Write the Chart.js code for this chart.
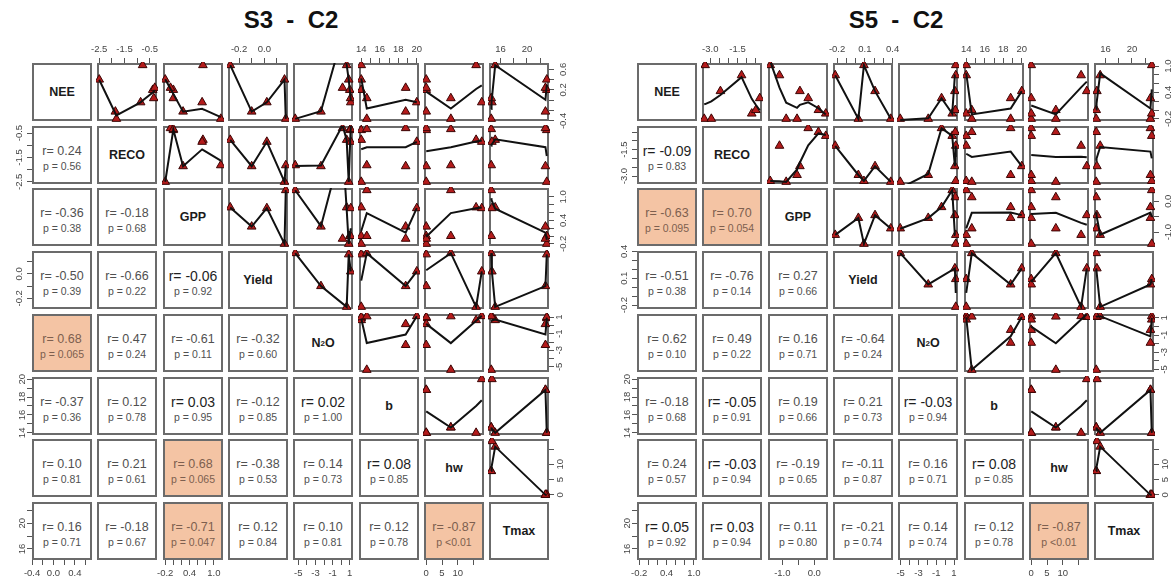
<!DOCTYPE html>
<html>
<head>
<meta charset="utf-8">
<script src="https://cdn.jsdelivr.net/npm/chart.js@4.4.1/dist/chart.umd.min.js"></script>
<style>
  body { margin: 0; width: 1172px; height: 585px; background: #fff; position: relative; overflow: hidden;
         font-family: Arial, "Liberation Sans", sans-serif; }
  .title { position: absolute; top: 8px; width: 300px; text-align: center; font-weight: bold; font-size: 24px;
           line-height: 24px; white-space: pre; color: #111; }
  .box { position: absolute; width: 60px; height: 58px; box-sizing: border-box; border: 2px solid #6b6b6b; background: #fff; }
  .diag { display: flex; align-items: center; justify-content: center; font-weight: bold; font-size: 12.5px; color: #1b1b1b; }
  .diag sub { font-size: 8px; }
  .rtxt { position: absolute; left: 0; right: 0; top: 15px; text-align: center; font-size: 12.5px; line-height: 16px; color: #505050; white-space: nowrap; }
  .ptxt { position: absolute; left: 0; right: 0; top: 32px; text-align: center; font-size: 10.5px; line-height: 12px; color: #505050; white-space: nowrap; }
  .rtxt.big { font-size: 14px; color: #1e1e1e; }
  .sig { background: #f4c4a4; }
  .sig .rtxt, .sig .ptxt { color: #7d5f4f; }
  canvas { position: absolute; }
</style>
</head>
<body>
<script>
// variable names, same order in both panels
const varNames = ['NEE', 'RECO', 'GPP', 'Yield', 'N<sub>2</sub>O', 'b', 'hw', 'Tmax'];

// S3 - C2 : 8 observations (null = missing)
const s3NEE   = [0.40, -0.22, -0.36, 0.68, -0.04, 0.20, 0.24, 0.04];
const s3RECO  = [-2.50, -1.86, -1.82, -0.78, -0.86, -0.38, -0.30, -0.34];
const s3GPP   = [-0.20, 0.24, 1.17, 0.73, 0.71, 0.00, -0.07, 0.00];
const s3Yield = [0.16, -0.10, 0.17, -0.27, 0.02, null, null, null];
const s3N2O   = [0.88, -2.36, -5.36, 0.64, 1.12, 1.00, 0.16, 1.10];
const s3B     = [14.0, 18.8, 14.6, 14.0, 20.0, 14.0, 18.8, 14.6];
const s3Hw    = [0, 0, 7.8, 15.8, 17.6, 0, 0, 7.8];
const s3Tmax  = [23.0, 22.8, 14.6, 15.2, 14.7, 23.0, 22.8, 14.6];

// S5 - C2
const s5NEE   = [1.02, -0.20, -0.20, 0.43, 0.79, 0.27, -0.08, 0.00];
const s5RECO  = [-3.28, -3.33, -2.94, -2.44, -1.28, -0.28, -0.72, -0.50];
const s5GPP   = [-1.38, -0.88, -0.54, -0.45, -1.09, -0.19, 0.36, 0.13];
const s5Yield = [0.09, 0.38, 0.03, 0.21, -0.22, null, null, null];
const s5N2O   = [1.20, -5.05, -1.90, 1.10, 1.20, -0.40, 0.80, 1.15];
const s5B     = [14.0, 14.6, 18.8, 20.0, 14.0, 18.8, 14.0, 14.6];
const s5Hw    = [0, 7.8, 0, 17.6, 15.8, 0, 0, 7.8];
const s5Tmax  = [23.0, 14.6, 22.8, 14.7, 15.2, 22.8, 23.0, 14.6];

// lower panel text, row by row (row 2 col 1, row 3 col 1..2, ...)
const s3R = ['0.24', '-0.36', '-0.18', '-0.50', '-0.66', '-0.06', '0.68', '0.47', '-0.61', '-0.32',
             '-0.37', '0.12', '0.03', '-0.12', '0.02', '0.10', '0.21', '0.68', '-0.38', '0.14', '0.08',
             '0.16', '-0.18', '-0.71', '0.12', '0.10', '0.12', '-0.87'];
const s3P = ['0.56', '0.38', '0.68', '0.39', '0.22', '0.92', '0.065', '0.24', '0.11', '0.60',
             '0.36', '0.78', '0.95', '0.85', '1.00', '0.81', '0.61', '0.065', '0.53', '0.73', '0.85',
             '0.71', '0.67', '0.047', '0.84', '0.81', '0.78', '<0.01'];
const s5R = ['-0.09', '-0.63', '0.70', '-0.51', '-0.76', '0.27', '0.62', '0.49', '0.16', '-0.64',
             '-0.18', '-0.05', '0.19', '0.21', '-0.03', '0.24', '-0.03', '-0.19', '-0.11', '0.16', '0.08',
             '0.05', '0.03', '0.11', '-0.21', '0.14', '0.12', '-0.87'];
const s5P = ['0.83', '0.095', '0.054', '0.38', '0.14', '0.66', '0.10', '0.22', '0.71', '0.24',
             '0.68', '0.91', '0.66', '0.73', '0.94', '0.57', '0.94', '0.65', '0.87', '0.71', '0.85',
             '0.92', '0.94', '0.80', '0.74', '0.74', '0.78', '<0.01'];

// axis ticks and the labels R kept on them
const s3Ticks = [[-0.4, -0.2, 0, 0.2, 0.4, 0.6], [-2.5, -2, -1.5, -1, -0.5], [-0.2, 0, 0.2, 0.4, 0.6, 0.8, 1.0],
                 [-0.2, -0.1, 0, 0.1], [-5, -4, -3, -2, -1, 0, 1], [14, 15, 16, 17, 18, 19, 20], [0, 5, 10, 15], [16, 18, 20, 22]];
const s3ColLabels = [['-0.4', '0.0', '0.4'], ['-2.5', '-1.5', '-0.5'], ['-0.2', '0.4', '1.0'], ['-0.2', '0.0'],
                     ['-5', '-3', '-1', '1'], ['14', '16', '18', '20'], ['0', '5', '10'], ['16', '20']];
const s3RowLabels = [['-0.4', '0.2', '0.6'], ['-2.5', '-1.5', '-0.5'], ['-0.2', '0.4', '1.0'], ['-0.2', '0.0'],
                     ['-5', '-3', '-1', '1'], ['14', '16', '18', '20'], ['0', '5', '10'], ['16', '20']];
const s5Ticks = [[-0.2, 0, 0.2, 0.4, 0.6, 0.8, 1.0], [-3, -2.5, -2, -1.5, -1, -0.5], [-1, -0.5, 0],
                 [-0.2, -0.1, 0, 0.1, 0.2, 0.3, 0.4], [-5, -4, -3, -2, -1, 0, 1], [14, 15, 16, 17, 18, 19, 20], [0, 5, 10, 15], [16, 18, 20, 22]];
const s5ColLabels = [['-0.2', '0.4', '1.0'], ['-3.0', '-1.5'], ['-1.0', '0.0'], ['-0.2', '0.1', '0.4'],
                     ['-5', '-3', '-1', '1'], ['14', '16', '18', '20'], ['0', '5', '10'], ['16', '20']];
const s5RowLabels = [['-0.2', '0.4', '1.0'], ['-3.0', '-1.5'], ['-1.0', '0.0'], ['-0.2', '0.1', '0.4'],
                     ['-5', '-3', '-1', '1'], ['14', '16', '18', '20'], ['0', '5', '10'], ['16', '20']];

const panels = [
  { x0: 32, title: 'S3  -  C2', values: [s3NEE, s3RECO, s3GPP, s3Yield, s3N2O, s3B, s3Hw, s3Tmax],
    ticks: s3Ticks, colLabels: s3ColLabels, rowLabels: s3RowLabels, r: s3R, p: s3P },
  { x0: 637, title: 'S5  -  C2', values: [s5NEE, s5RECO, s5GPP, s5Yield, s5N2O, s5B, s5Hw, s5Tmax],
    ticks: s5Ticks, colLabels: s5ColLabels, rowLabels: s5RowLabels, r: s5R, p: s5P }
];

const BOX_W = 60, BOX_H = 58, PITCH_X = 65.3, PITCH_Y = 62.7, Y0 = 63;
const M = 30;   // canvas margin round each box
const AX = 22;  // room given to an outer axis

Chart.defaults.font.family = 'Arial, "Liberation Sans", sans-serif';
Chart.defaults.animation = false;

// R pairs: range of the data plus 4% each side
function rLimits(vals) {
  const v = vals.filter(x => x !== null);
  const lo = Math.min(...v), hi = Math.max(...v), ext = (hi - lo) * 0.04;
  return [lo - ext, hi + ext];
}

// port of R's clowess (f = 2/3, iter = 3), as used by panel.smooth
function lowest(x, y, n, xs, nleft, nright, rw, userw) {
  const range = x[n] - x[1];
  const h = Math.max(xs - x[nleft], x[nright] - xs);
  const h9 = 0.999 * h, h1 = 0.001 * h;
  const w = new Array(n + 1).fill(0);
  let a = 0, j = nleft;
  while (j <= n) {
    w[j] = 0;
    const r = Math.abs(x[j] - xs);
    if (r <= h9) {
      w[j] = r <= h1 ? 1 : Math.pow(1 - Math.pow(r / h, 3), 3);
      if (userw) w[j] *= rw[j];
      a += w[j];
    } else if (x[j] > xs) break;
    j++;
  }
  const nrt = j - 1;
  if (a <= 0) return null;
  for (j = nleft; j <= nrt; j++) w[j] /= a;
  if (h > 0) {
    a = 0;
    for (j = nleft; j <= nrt; j++) a += w[j] * x[j];
    let b = xs - a, c = 0;
    for (j = nleft; j <= nrt; j++) c += w[j] * (x[j] - a) * (x[j] - a);
    if (Math.sqrt(c) > 0.001 * range) {
      b /= c;
      for (j = nleft; j <= nrt; j++) w[j] *= (b * (x[j] - a) + 1);
    }
  }
  let out = 0;
  for (j = nleft; j <= nrt; j++) out += w[j] * y[j];
  return out;
}

function lowess(pts) {
  const s = pts.slice().sort((p, q) => p.x - q.x);
  const n = s.length;
  const x = [0].concat(s.map(p => p.x)), y = [0].concat(s.map(p => p.y));
  const ys = new Array(n + 1).fill(0), rw = new Array(n + 1).fill(1), res = new Array(n + 1).fill(0);
  const nsteps = 3, delta = 0.01 * (x[n] - x[1]);
  const ns = Math.max(2, Math.min(n, Math.floor(2 / 3 * n + 1e-7)));
  for (let iter = 1; iter <= nsteps + 1; iter++) {
    let nleft = 1, nright = ns, last = 0, i = 1;
    for (;;) {
      if (nright < n) {
        const d1 = x[i] - x[nleft], d2 = x[nright + 1] - x[i];
        if (d1 > d2) { nleft++; nright++; continue; }
      }
      const fit = lowest(x, y, n, x[i], nleft, nright, rw, iter > 1);
      ys[i] = fit === null ? y[i] : fit;
      if (last < i - 1) {
        const denom = x[i] - x[last];
        for (let j = last + 1; j < i; j++) {
          const alpha = (x[j] - x[last]) / denom;
          ys[j] = alpha * ys[i] + (1 - alpha) * ys[last];
        }
      }
      last = i;
      const cut = x[last] + delta;
      for (i = last + 1; i <= n; i++) {
        if (x[i] > cut) break;
        if (x[i] === x[last]) { ys[i] = ys[last]; last = i; }
      }
      i = Math.max(last + 1, i - 1);
      if (last >= n) break;
    }
    let sc = 0;
    for (let k = 1; k <= n; k++) { res[k] = y[k] - ys[k]; sc += Math.abs(res[k]); }
    sc /= n;
    if (iter > nsteps) break;
    const sorted = res.slice(1).map(Math.abs).sort((p, q) => p - q);
    const m1 = Math.floor(n / 2);
    const cmad = n % 2 === 0 ? 3 * (sorted[m1] + sorted[n - m1 - 1]) : 6 * sorted[m1];
    if (cmad < 1e-7 * sc) break;
    const c9 = 0.999 * cmad, c1 = 0.001 * cmad;
    for (let k = 1; k <= n; k++) {
      const r = Math.abs(res[k]);
      rw[k] = r <= c1 ? 1 : (r <= c9 ? Math.pow(1 - Math.pow(r / cmad, 2), 2) : 0);
    }
  }
  return s.map((p, k) => ({ x: p.x, y: ys[k + 1] }));
}

function axisOpts(pn, v, pos, show) {
  const lim = rLimits(pn.values[v]);
  const horiz = pos === 'top' || pos === 'bottom';
  const labels = horiz ? pn.colLabels[v] : pn.rowLabels[v];
  return {
    type: 'linear', position: pos, display: show, min: lim[0], max: lim[1],
    afterBuildTicks: s => { s.ticks = pn.ticks[v].map(t => ({ value: t })); },
    afterFit: s => { if (!show) return; if (horiz) s.height = AX; else s.width = AX; },
    ticks: {
      autoSkip: false, color: '#444', font: { size: 9.5 },
      padding: horiz ? 3 : (pos === 'left' ? -1 : 1),
      minRotation: horiz ? 0 : 90, maxRotation: horiz ? 0 : 90,
      crossAlign: horiz ? 'near' : 'center',
      callback: val => {
        const hit = labels.find(l => Math.abs(parseFloat(l) - val) < 1e-9);
        return hit === undefined ? '' : hit;
      }
    },
    grid: { drawOnChartArea: false, drawTicks: true, tickLength: 5, color: '#555', lineWidth: 1 },
    border: { display: false }
  };
}

function cellPos(pn, i, j) {
  return { left: Math.round(pn.x0 + j * PITCH_X), top: Math.round(Y0 + i * PITCH_Y) };
}

function cellChart(pn, i, j, ax) {
  const { left, top } = cellPos(pn, i, j);
  const cv = document.createElement('canvas');
  cv.width = BOX_W + 2 * M;
  cv.height = BOX_H + 2 * M;
  cv.style.left = (left - M) + 'px';
  cv.style.top = (top - M) + 'px';
  cv.style.width = cv.width + 'px';
  cv.style.height = cv.height + 'px';
  document.body.appendChild(cv);

  const datasets = [];
  if (i < j) {
    const xs = pn.values[j], ys = pn.values[i];
    const pts = xs.map((x, k) => ({ x: x, y: ys[k] })).filter(p => p.x !== null && p.y !== null);
    // smoother first so it is painted over the points
    datasets.push({ data: lowess(pts), showLine: true, pointRadius: 0, borderColor: '#111',
                    borderWidth: 2, tension: 0, clip: 0 });
    datasets.push({ data: pts, pointStyle: 'triangle', pointRadius: 5, backgroundColor: '#b31b1b',
                    borderColor: '#3a0505', borderWidth: 1, clip: 1 });
  }

  new Chart(cv, {
    type: 'scatter',
    data: { datasets },
    options: {
      responsive: false, animation: false, devicePixelRatio: 1, events: [],
      layout: { padding: {
        top: ax.top ? M - AX : M, bottom: ax.bottom ? M - AX : M,
        left: ax.left ? M - AX : M, right: ax.right ? M - AX : M } },
      plugins: { legend: { display: false }, tooltip: { enabled: false } },
      scales: {
        x: axisOpts(pn, j, ax.top ? 'top' : 'bottom', ax.top || ax.bottom),
        y: axisOpts(pn, i, ax.right ? 'right' : 'left', ax.left || ax.right)
      }
    }
  });
}

panels.forEach(pn => {
  const t = document.createElement('div');
  t.className = 'title';
  t.textContent = pn.title;
  t.style.left = Math.round(pn.x0 + (7 * PITCH_X + BOX_W) / 2 - 150) + 'px';
  document.body.appendChild(t);

  let k = 0;
  for (let i = 0; i < 8; i++) {
    for (let j = 0; j < 8; j++) {
      const { left, top } = cellPos(pn, i, j);
      const box = document.createElement('div');
      box.className = 'box';
      box.style.left = left + 'px';
      box.style.top = top + 'px';
      if (i === j) {
        box.classList.add('diag');
        box.innerHTML = varNames[i];
      } else if (i > j) {
        const r = pn.r[k], p = pn.p[k];
        k++;
        const sig = p.startsWith('<') || parseFloat(p) < 0.1;
        if (sig) box.classList.add('sig');
        const big = Math.abs(parseFloat(r)) < 0.1 ? ' big' : '';
        box.innerHTML = '<div class="rtxt' + big + '">r= ' + r + '</div>' +
                        '<div class="ptxt">' + (p.startsWith('<') ? 'p ' + p : 'p = ' + p) + '</div>';
      }
      document.body.appendChild(box);
    }
  }

  for (let i = 0; i < 8; i++) {
    for (let j = 0; j < 8; j++) {
      const ax = {
        top: i === 0 && j % 2 === 1,
        bottom: i === 7 && j % 2 === 0,
        left: j === 0 && i % 2 === 1,
        right: j === 7 && i % 2 === 0
      };
      if (i < j || ax.top || ax.bottom || ax.left || ax.right) cellChart(pn, i, j, ax);
    }
  }
});
</script>
</body>
</html>
